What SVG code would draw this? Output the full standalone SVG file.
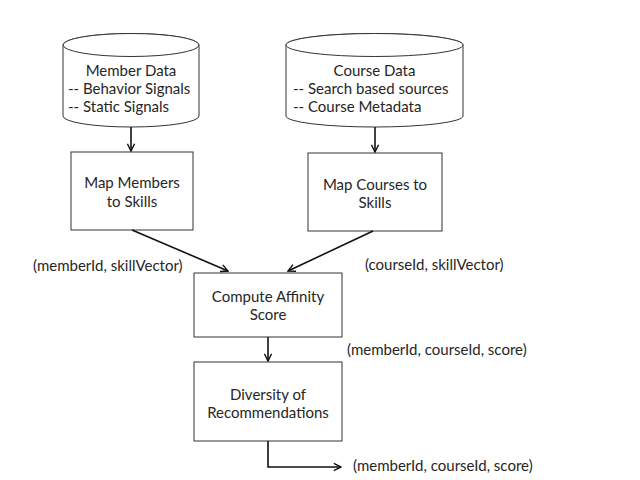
<svg xmlns="http://www.w3.org/2000/svg" width="640" height="480" viewBox="0 0 640 480">
<style>
.n{fill:#fff;stroke:#333;stroke-width:1}
.t{font-family:Lato,"Open Sans",sans-serif;font-size:15px;fill:#262626}
.m{text-anchor:middle}
.c{fill:none;stroke:#111;stroke-width:1.6}
</style>
<defs>
<marker id="a" viewBox="0 0 10 10" refX="9" refY="5" markerWidth="9" markerHeight="9" orient="auto" markerUnits="userSpaceOnUse">
<path d="M1,1 L9,5 L1,9" fill="none" stroke="#111" stroke-width="1.6"/>
</marker>
</defs>
<rect width="640" height="480" fill="#fff"/>
<g id="member-data">
<path class="n" d="M63,45 L63,116 A68,11 0 0 0 199,116 L199,45 A68,11.5 0 0 0 63,45 Z"/>
<ellipse class="n" cx="131" cy="45" rx="68" ry="11.5"/>
<text class="t m" x="131" y="76">Member Data</text>
<text class="t" x="68" y="94">-- Behavior Signals</text>
<text class="t" x="68" y="112">-- Static Signals</text>
</g>
<g id="course-data">
<path class="n" d="M286,45 L286,116 A88.5,11 0 0 0 463,116 L463,45 A88.5,11.5 0 0 0 286,45 Z"/>
<ellipse class="n" cx="374.5" cy="45" rx="88.5" ry="11.5"/>
<text class="t m" x="374.5" y="76">Course Data</text>
<text class="t" x="293" y="94">-- Search based sources</text>
<text class="t" x="293" y="112">-- Course Metadata</text>
</g>
<g id="map-members">
<rect class="n" x="71" y="152" width="122" height="78"/>
<text class="t m" x="132" y="188">Map Members</text>
<text class="t m" x="132" y="207">to Skills</text>
</g>
<g id="map-courses">
<rect class="n" x="308" y="153" width="134" height="78"/>
<text class="t m" x="375" y="190">Map Courses to</text>
<text class="t m" x="375" y="208">Skills</text>
</g>
<g id="compute-affinity">
<rect class="n" x="194" y="273" width="148" height="64"/>
<text class="t m" x="268" y="302">Compute Affinity</text>
<text class="t m" x="268" y="320">Score</text>
</g>
<g id="diversity">
<rect class="n" x="194" y="362" width="148" height="79"/>
<text class="t m" x="268" y="400">Diversity of</text>
<text class="t m" x="268" y="418">Recommendations</text>
</g>
<g id="connectors">
<path class="c" marker-end="url(#a)" d="M131,127 L131,151"/>
<path class="c" marker-end="url(#a)" d="M375,127 L375,152"/>
<path class="c" marker-end="url(#a)" d="M132,230 L228,271"/>
<path class="c" marker-end="url(#a)" d="M373,231 L288,271"/>
<path class="c" marker-end="url(#a)" d="M268,337 L268,361"/>
<path class="c" marker-end="url(#a)" d="M268,441 L268,467 L341,467"/>
</g>
<g id="labels">
<text class="t" x="33" y="271">(memberId, skillVector)</text>
<text class="t" x="365" y="270">(courseId, skillVector)</text>
<text class="t" x="347" y="355">(memberId, courseId, score)</text>
<text class="t" x="353" y="471">(memberId, courseId, score)</text>
</g>
</svg>
